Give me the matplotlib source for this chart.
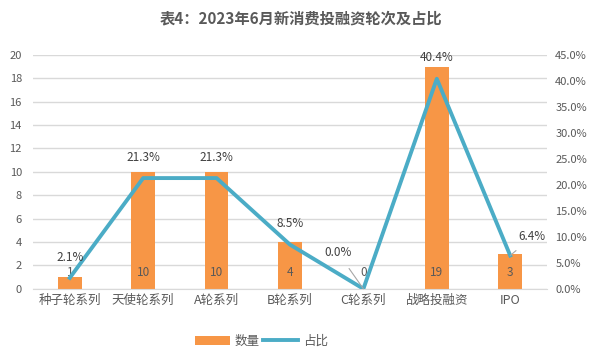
import matplotlib
matplotlib.use('Agg')
import matplotlib.pyplot as plt
import numpy as np
from matplotlib.ticker import FuncFormatter

plt.rcParams['font.family'] = ['Noto Sans CJK SC', 'DejaVu Sans']

# Data
categories = ['种子轮系列', '天使轮系列', 'A轮系列', 'B轮系列', 'C轮系列', '战略投融资', 'IPO']
counts = [1, 10, 10, 4, 0, 19, 3]
shares = [2.1, 21.3, 21.3, 8.5, 0.0, 40.4, 6.4]

BAR_COLOR = '#F79646'
LINE_COLOR = '#4BACC6'
TEXT_COLOR = '#595959'
GRID_COLOR = '#D9D9D9'

fig = plt.figure(figsize=(6.01, 3.61), dpi=100)
ax = fig.add_axes([0.055, 0.2, 0.855, 0.648])
ax2 = ax.twinx()

x = np.arange(len(categories))
bars = ax.bar(x, counts, width=0.32, color=BAR_COLOR, label='数量', zorder=2)
line, = ax2.plot(x, shares, color=LINE_COLOR, lw=2.8, label='占比', zorder=3)

ax.set_xlim(-0.5, len(categories) - 0.5)
ax.set_ylim(0, 20)
ax.set_yticks(np.arange(0, 21, 2))
ax2.set_ylim(0, 45)
ax2.set_yticks(np.arange(0, 46, 5))
ax2.yaxis.set_major_formatter(FuncFormatter(lambda v, p: f'{v:.1f}%'))

ax.grid(axis='y', color=GRID_COLOR, lw=1, zorder=0)
ax.set_axisbelow(True)
for a in (ax, ax2):
    for s in a.spines.values():
        s.set_visible(False)
    a.tick_params(length=0, labelsize=8, colors=TEXT_COLOR)
ax.spines['bottom'].set_visible(True)
ax.spines['bottom'].set_color(GRID_COLOR)
ax.set_xticks(x)
ax.set_xticklabels(categories, fontsize=9, color=TEXT_COLOR)
ax.tick_params(axis='x', pad=4)
ax.tick_params(axis='y', pad=8)
ax2.tick_params(axis='y', pad=6)

# count labels near the bar base
for xi, c in zip(x, counts):
    ax.text(xi, 1.4, str(c), ha='center', va='center', fontsize=8.5, color=TEXT_COLOR, zorder=4)

# share labels above the line points
for xi, s in zip(x, shares):
    if xi == 4:
        ax2.annotate(f'{s:.1f}%', xy=(xi, s), xytext=(xi - 0.35, s + 7.0),
                     ha='center', va='center', fontsize=8.5, color='#404040',
                     arrowprops=dict(arrowstyle='-', color='#A6A6A6', lw=0.8,
                                     shrinkA=6, shrinkB=0))
    elif xi == 6:
        ax2.annotate(f'{s:.1f}%', xy=(xi, s), xytext=(xi + 0.3, s + 3.6),
                     ha='center', va='center', fontsize=8.5, color='#404040',
                     arrowprops=dict(arrowstyle='-', color='#A6A6A6', lw=0.8,
                                     shrinkA=5, shrinkB=0))
    else:
        ax2.text(xi, s + 4.0, f'{s:.1f}%', ha='center', va='center',
                 fontsize=8.5, color='#404040', zorder=4)

fig.suptitle('表4：2023年6月新消费投融资轮次及占比', x=0.5, y=0.97,
             fontsize=11, fontweight='bold', color=TEXT_COLOR)

fig.legend(handles=[bars, line], labels=['数量', '占比'], loc='center',
           bbox_to_anchor=(0.435, 0.055), ncol=2, frameon=False, fontsize=9,
           handlelength=2.8, columnspacing=0.3, handletextpad=0.4,
           labelcolor=TEXT_COLOR)

fig.savefig('out.png', dpi=100)
